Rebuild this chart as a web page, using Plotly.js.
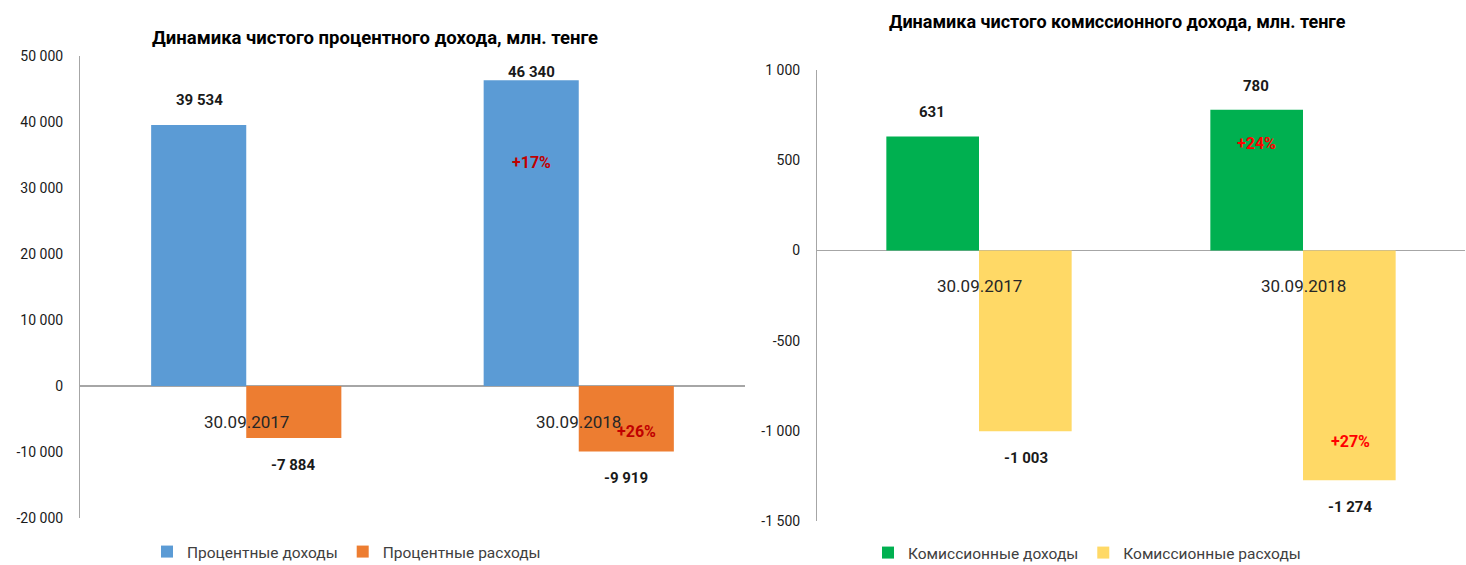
<!DOCTYPE html>
<html><head><meta charset="utf-8">
<script src="https://cdn.plot.ly/plotly-3.0.1.min.js"></script>
<style>html,body{margin:0;padding:0;background:#fff}</style>
</head><body><div id="chart" style="width:1466px;height:565px"></div>
<script>
// ---- data ----
const categories = ['30.09.2017', '30.09.2018'];
const interestIncome = [39534, 46340];
const interestExpense = [-7884, -9919];
const commissionIncome = [631, 780];
const commissionExpense = [-1003, -1274];
const leftTickVals = [-20000, -10000, 0, 10000, 20000, 30000, 40000, 50000];
const leftTickText = ['-20 000', '-10 000', '0', '10 000', '20 000', '30 000', '40 000', '50 000'];
const rightTickVals = [-1500, -1000, -500, 0, 500, 1000];
const rightTickText = ['-1 500', '-1 000', '-500', '0', '500', '1 000'];
const leftTitle = 'Динамика чистого процентного дохода, млн. тенге';
const rightTitle = 'Динамика чистого комиссионного дохода, млн. тенге';
const seriesNames = ['Процентные доходы', 'Процентные расходы', 'Комиссионные доходы', 'Комиссионные расходы'];

// ---- style ----
const FONT = 'Roboto, Liberation Sans, sans-serif';
const W = 1466, H = 565;
const colors = ['#5B9BD5', '#ED7D31', '#00B050', '#FFD966'];
const leftDom = {x0: 80, x1: 745, top: 56, bot: 518, r: [-20000, 50000]};
const rightDom = {x0: 817, x1: 1465, top: 70, bot: 521, r: [-1500, 1000]};

function fmt(v) {
  const s = Math.abs(Math.round(v)).toString().replace(/\B(?=(\d{3})+(?!\d))/g, ' ');
  return (v < 0 ? '-' : '') + s;
}
function pct(a, b) {
  const p = Math.round((Math.abs(b) / Math.abs(a) - 1) * 100);
  return (p >= 0 ? '+' : '') + p + '%';
}
function px(v, d) {
  return d.bot - (v - d.r[0]) / (d.r[1] - d.r[0]) * (d.bot - d.top);
}

const barHalf = 47;
const annotations = [];
function addLabels(vals, d, xref, yref, side) {
  vals.forEach((v, i) => {
    const end = px(v, d);
    let lab = v >= 0 ? end - 25 : end + 27;
    if (lab < d.top + 16) lab = d.top + 16;
    annotations.push({
      xref: xref, yref: yref, x: categories[i], y: v, xshift: side * barHalf,
      yshift: end - lab, yanchor: 'middle', xanchor: 'center', text: fmt(v), showarrow: false,
      font: {family: FONT, size: 15, color: '#1a1a1a', weight: 'bold'}
    });
  });
}
addLabels(interestIncome, leftDom, 'x', 'y', -1);
addLabels(interestExpense, leftDom, 'x', 'y', 1);
addLabels(commissionIncome, rightDom, 'x2', 'y2', -1);
addLabels(commissionExpense, rightDom, 'x2', 'y2', 1);

// percent change labels
function addPct(vals, xref, yref, side, frac, xs, color) {
  annotations.push({
    xref: xref, yref: yref, x: categories[1], y: vals[1] * frac, xshift: side * barHalf + xs,
    yanchor: 'middle', xanchor: 'center',
    text: pct(vals[0], vals[1]), showarrow: false,
    font: {family: FONT, size: 16, color: color, weight: 'bold'}
  });
}
addPct(interestIncome, 'x', 'y', -1, 0.73, 0, '#C00000');
addPct(interestExpense, 'x', 'y', 1, 0.70, 11, '#C00000');
addPct(commissionIncome, 'x2', 'y2', -1, 0.76, 0, '#FF0000');
addPct(commissionExpense, 'x2', 'y2', 1, 0.83, 0, '#FF0000');

// category labels under the zero line
categories.forEach(c => {
  ['x', 'x2'].forEach((xr, k) => {
    annotations.push({xref: xr, yref: k ? 'y2' : 'y', x: c, y: 0, yshift: -36, yanchor: 'middle', xanchor: 'center',
      text: c, showarrow: false, font: {family: FONT, size: 17, color: '#262626'}});
  });
});

// titles
annotations.push({xref: 'paper', yref: 'paper', x: 375 / W, y: 1 - 38 / H, xanchor: 'center', yanchor: 'middle',
  text: leftTitle, showarrow: false, font: {family: FONT, size: 18.5, color: '#000', weight: 'bold'}});
annotations.push({xref: 'paper', yref: 'paper', x: 1117 / W, y: 1 - 22 / H, xanchor: 'center', yanchor: 'middle',
  text: rightTitle, showarrow: false, font: {family: FONT, size: 18, color: '#000', weight: 'bold'}});

const traces = [
  {type: 'bar', x: categories, y: interestIncome, name: seriesNames[0], marker: {color: colors[0]}, xaxis: 'x', yaxis: 'y', legend: 'legend', hoverinfo: 'none'},
  {type: 'bar', x: categories, y: interestExpense, name: seriesNames[1], marker: {color: colors[1]}, xaxis: 'x', yaxis: 'y', legend: 'legend', hoverinfo: 'none'},
  {type: 'bar', x: categories, y: commissionIncome, name: seriesNames[2], marker: {color: colors[2]}, xaxis: 'x2', yaxis: 'y2', legend: 'legend2', hoverinfo: 'none'},
  {type: 'bar', x: categories, y: commissionExpense, name: seriesNames[3], marker: {color: colors[3]}, xaxis: 'x2', yaxis: 'y2', legend: 'legend2', hoverinfo: 'none'}
];

function yax(d, vals, text, anchor) {
  return {
    domain: [1 - d.bot / H, 1 - d.top / H], range: d.r, anchor: anchor,
    tickmode: 'array', tickvals: vals, ticktext: text, ticks: '', ticklabelstandoff: 13,
    showline: true, linecolor: '#a6a6a6', linewidth: 1, showgrid: false,
    zeroline: true, zerolinecolor: '#a6a6a6', zerolinewidth: 1.5,
    tickfont: {family: FONT, size: 14, color: '#1a1a1a'}, fixedrange: true, automargin: false
  };
}
function xax(d, anchor) {
  return {domain: [d.x0 / W, d.x1 / W], anchor: anchor, type: 'category', automargin: false,
    showticklabels: false, showline: false, ticks: '', showgrid: false, zeroline: false, fixedrange: true};
}

const layout = {
  width: W, height: H, margin: {l: 0, r: 0, t: 0, b: 0, autoexpand: false},
  paper_bgcolor: '#fff', plot_bgcolor: 'rgba(0,0,0,0)',
  barmode: 'group', bargap: 0.428, bargroupgap: 0,
  xaxis: xax(leftDom, 'y'), yaxis: yax(leftDom, leftTickVals, leftTickText, 'x'),
  xaxis2: xax(rightDom, 'y2'), yaxis2: yax(rightDom, rightTickVals, rightTickText, 'x2'),
  legend: {orientation: 'h', x: 147 / W, xanchor: 'left', y: 1 - 552 / H, yanchor: 'middle',
    font: {family: FONT, size: 15.5, color: '#404040'}, itemwidth: 30, bgcolor: 'rgba(0,0,0,0)', traceorder: 'normal'},
  legend2: {orientation: 'h', x: 868 / W, xanchor: 'left', y: 1 - 553 / H, yanchor: 'middle',
    font: {family: FONT, size: 15.5, color: '#404040'}, itemwidth: 30, bgcolor: 'rgba(0,0,0,0)', traceorder: 'normal'},
  annotations: annotations,
  showlegend: true
};

Plotly.newPlot('chart', traces, layout, {displayModeBar: false, staticPlot: true});
</script></body></html>
